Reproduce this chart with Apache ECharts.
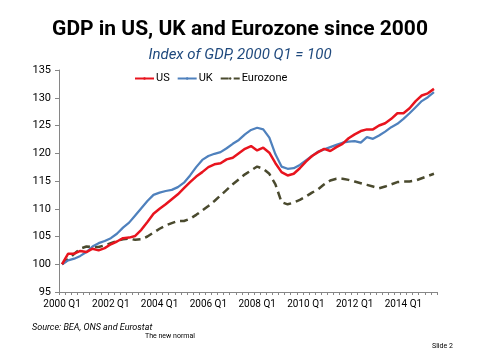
<!DOCTYPE html>
<html>
<head>
<meta charset="utf-8">
<script src="https://cdn.jsdelivr.net/npm/echarts@6/dist/echarts.min.js"></script>
<style>html,body{margin:0;padding:0;background:#fff}#c{width:480px;height:360px}</style>
</head>
<body>
<div id="c"></div>
<script>
const categories = [
"2000 Q1","2000 Q2","2000 Q3","2000 Q4","2001 Q1","2001 Q2","2001 Q3","2001 Q4",
"2002 Q1","2002 Q2","2002 Q3","2002 Q4","2003 Q1","2003 Q2","2003 Q3","2003 Q4",
"2004 Q1","2004 Q2","2004 Q3","2004 Q4","2005 Q1","2005 Q2","2005 Q3","2005 Q4",
"2006 Q1","2006 Q2","2006 Q3","2006 Q4","2007 Q1","2007 Q2","2007 Q3","2007 Q4",
"2008 Q1","2008 Q2","2008 Q3","2008 Q4","2009 Q1","2009 Q2","2009 Q3","2009 Q4",
"2010 Q1","2010 Q2","2010 Q3","2010 Q4","2011 Q1","2011 Q2","2011 Q3","2011 Q4",
"2012 Q1","2012 Q2","2012 Q3","2012 Q4","2013 Q1","2013 Q2","2013 Q3","2013 Q4",
"2014 Q1","2014 Q2","2014 Q3","2014 Q4","2015 Q1","2015 Q2"];

const us = [100.0,101.9,101.9,102.4,102.2,102.8,102.5,102.9,
103.6,104.1,104.7,104.8,105.1,106.2,107.6,109.1,
110.0,110.8,111.7,112.6,113.7,114.8,115.8,116.6,
117.5,118.0,118.2,118.9,119.2,120.0,120.8,121.3,
120.5,121.0,120.1,118.2,116.6,116.0,116.3,117.3,
118.5,119.5,120.2,120.8,120.4,121.1,121.7,122.7,
123.4,124.0,124.3,124.3,125.0,125.4,126.2,127.2,
127.2,128.1,129.4,130.4,130.8,131.6];

const uk = [100.0,100.7,101.0,101.5,102.2,103.2,103.8,104.2,
104.7,105.5,106.6,107.5,108.8,110.1,111.4,112.5,
112.9,113.2,113.4,113.9,114.7,116.0,117.5,118.8,
119.5,119.9,120.2,120.9,121.7,122.4,123.4,124.2,
124.6,124.3,122.8,119.8,117.6,117.2,117.3,117.9,
118.7,119.5,120.3,120.7,121.1,121.5,121.9,122.1,
122.2,121.9,122.9,122.6,123.2,123.9,124.7,125.3,
126.2,127.2,128.3,129.4,130.1,131.0];

const eurozone = [100.0,100.9,101.9,102.8,103.2,103.1,103.1,103.4,
103.8,104.2,104.5,104.6,104.4,104.5,105.0,105.7,
106.4,107.0,107.4,107.8,107.8,108.2,108.9,109.7,
110.5,111.4,112.4,113.4,114.4,115.3,116.2,116.9,
117.6,117.2,116.3,114.4,111.2,110.8,111.1,111.6,
112.2,112.9,113.5,114.4,115.1,115.4,115.4,115.2,
114.9,114.6,114.3,114.0,113.7,114.0,114.4,114.8,
114.9,114.9,115.1,115.5,115.9,116.3];

const yTicks = {min: 95, max: 135, interval: 5};

const FONT = 'Roboto, "Noto Sans", sans-serif';
const chart = echarts.init(document.getElementById('c'), null, {renderer: 'canvas'});
chart.setOption({
  backgroundColor: '#ffffff',
  animation: false,
  title: [
    {text: 'GDP in US, UK and Eurozone since 2000', left: 'center', top: 14,
     textStyle: {fontFamily: FONT, fontWeight: 'bold', fontSize: 21, color: '#000000'}},
    {text: 'Index of GDP, 2000 Q1 = 100', left: 'center', top: 43,
     textStyle: {fontFamily: FONT, fontStyle: 'italic', fontWeight: 'normal', fontSize: 15, color: '#1F497D'}},
    {text: 'Source: BEA, ONS and Eurostat', left: 27, top: 318,
     textStyle: {fontFamily: FONT, fontStyle: 'italic', fontWeight: 'normal', fontSize: 9, color: '#000000'}},
    {text: 'The new normal', left: 140, top: 328,
     textStyle: {fontFamily: FONT, fontWeight: 'normal', fontSize: 7, color: '#000000'}},
    {text: 'Slide 2', left: 427, top: 338,
     textStyle: {fontFamily: FONT, fontWeight: 'normal', fontSize: 7, color: '#000000'}}
  ],
  legend: {
    left: 134, top: 73, itemWidth: 19, itemHeight: 3, itemGap: 7, padding: 0,
    textStyle: {fontFamily: FONT, fontSize: 11, color: '#000000', padding: [0, 0, 0, -3]},
    data: ['US', 'UK', 'Eurozone']
  },
  grid: {left: 59, right: 43, top: 70, bottom: 68},
  xAxis: {
    type: 'category', data: categories, boundaryGap: true,
    axisLine: {lineStyle: {color: '#868686', width: 1}},
    axisTick: {show: true, interval: 0, length: 3, lineStyle: {color: '#868686'}},
    axisLabel: {interval: 7, margin: 7, fontFamily: FONT, fontSize: 10, color: '#000000'},
    splitLine: {show: false}
  },
  yAxis: {
    type: 'value', min: yTicks.min, max: yTicks.max, interval: yTicks.interval,
    axisLine: {show: true, lineStyle: {color: '#868686', width: 1}},
    axisTick: {show: true, length: 4, lineStyle: {color: '#868686'}},
    axisLabel: {margin: 8, fontFamily: FONT, fontSize: 11, color: '#000000'},
    splitLine: {show: false}
  },
  series: [
    {name: 'US', type: 'line', data: us, symbol: 'none', z: 4,
     lineStyle: {color: '#E8141E', width: 2.5}, itemStyle: {color: '#E8141E'}},
    {name: 'UK', type: 'line', data: uk, symbol: 'none', z: 3,
     lineStyle: {color: '#4F81BD', width: 2.25}, itemStyle: {color: '#4F81BD'}},
    {name: 'Eurozone', type: 'line', data: eurozone, symbol: 'none', z: 2,
     lineStyle: {color: '#4A4A2E', width: 2.5, type: [8, 5]}, itemStyle: {color: '#4A4A2E'}}
  ]
});
</script>
</body>
</html>
